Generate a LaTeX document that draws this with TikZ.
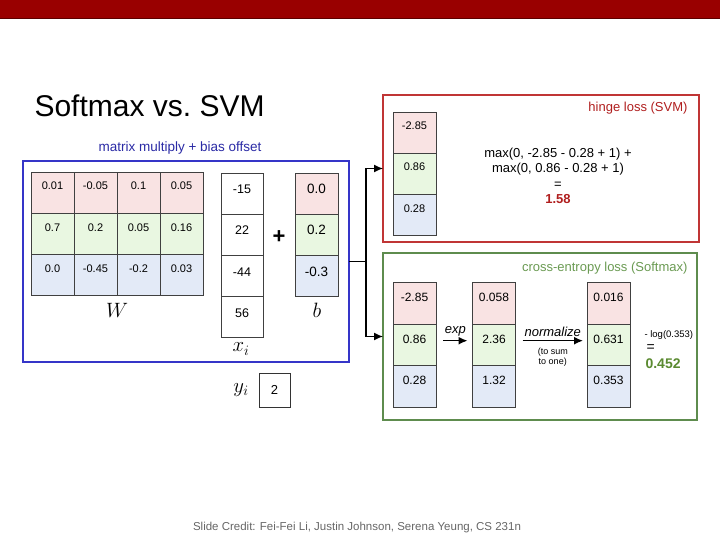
\documentclass[tikz,border=0pt]{standalone}
\usepackage{fontspec}
\setmainfont{Liberation Sans}
\usetikzlibrary{arrows.meta,positioning}
\definecolor{slideRed}{HTML}{990000}
\definecolor{cellRed}{HTML}{F9E3E3}
\definecolor{cellGreen}{HTML}{E9F7E1}
\definecolor{cellBlue}{HTML}{E3EAF7}
\definecolor{mmBlue}{HTML}{3535C8}
\definecolor{mmText}{HTML}{2A2AA5}
\definecolor{svmRed}{HTML}{C03535}
\definecolor{svmText}{HTML}{B01E1E}
\definecolor{ceGreen}{HTML}{5E8C4E}
\definecolor{ceText}{HTML}{6A9A52}
\definecolor{ceBold}{HTML}{5A8A30}
\newcommand{\fsz}[1]{\fontsize{#1}{#1}\selectfont}

\begin{document}
\begin{tikzpicture}[x=1pt,y=-1pt,
  cell/.style={draw=black!75,line width=0.7pt,minimum width=43pt,minimum height=41pt,
               inner sep=0pt,outer sep=0pt,text height=8pt,text depth=13pt,font=\fsz{11}},
  xcell/.style={cell,minimum width=42pt,text depth=7pt,font=\fsz{12.5}},
  bcell/.style={cell,text depth=7pt,font=\fsz{13.5}},
  scell/.style={cell,minimum height=41.7pt,text depth=11pt,font=\fsz{12}},
  frame/.style={draw=#1,line width=1.6pt,inner sep=0pt,outer sep=0pt},
  tip/.style={-{Latex[length=9pt,width=8pt]}}]
  \useasboundingbox (0,0) rectangle (720,540);
  \fill[slideRed] (0,0) rectangle (720,18);
  \draw[slideRed!60!black,line width=0.8pt] (0,18) -- (720,18);

  \node[anchor=base west,font=\fsz{30}] (title) at (31,117) {Softmax vs.\ SVM};

  % matrix multiply + bias
  \node[frame=mmBlue,minimum width=326pt,minimum height=201pt] (mm) at (186,261.5) {};
  \node[font=\fsz{13.5},text=mmText] (mmlabel) at (180,148) {matrix multiply + bias offset};

  \node[cell,fill=cellRed] (w11) at (52.5,192.5) {0.01};
  \node[cell,fill=cellRed,right=0pt of w11] (w12) {-0.05};
  \node[cell,fill=cellRed,right=0pt of w12] (w13) {0.1};
  \node[cell,fill=cellRed,right=0pt of w13] (w14) {0.05};
  \node[cell,fill=cellGreen,below=0pt of w11] (w21) {0.7};
  \node[cell,fill=cellGreen,right=0pt of w21] (w22) {0.2};
  \node[cell,fill=cellGreen,right=0pt of w22] (w23) {0.05};
  \node[cell,fill=cellGreen,right=0pt of w23] (w24) {0.16};
  \node[cell,fill=cellBlue,below=0pt of w21] (w31) {0.0};
  \node[cell,fill=cellBlue,right=0pt of w31] (w32) {-0.45};
  \node[cell,fill=cellBlue,right=0pt of w32] (w33) {-0.2};
  \node[cell,fill=cellBlue,right=0pt of w33] (w34) {0.03};
  \node[font=\fsz{20}] (wlabel) at (117,310) {$W$};

  \node[xcell,fill=white] (x1) at (242,193.5) {-15};
  \node[xcell,fill=white,below=0pt of x1] (x2) {22};
  \node[xcell,fill=white,below=0pt of x2] (x3) {-44};
  \node[xcell,fill=white,below=0pt of x3] (x4) {56};
  \node[font=\fsz{20}] (xlabel) at (241,349) {$x_i$};

  \node[font=\fsz{22}\bfseries] (plus) at (279,237) {+};

  \node[bcell,fill=cellRed] (b1) at (316.5,193.5) {0.0};
  \node[bcell,fill=cellGreen,below=0pt of b1] (b2) {0.2};
  \node[bcell,fill=cellBlue,below=0pt of b2] (b3) {-0.3};
  \node[font=\fsz{20}] (blabel) at (317,310) {$b$};

  \node[font=\fsz{20}] (ylabel) at (241,390) {$y_i$};
  \node[draw=black!80,line width=0.8pt,minimum width=31pt,minimum height=34pt,
        font=\fsz{13}] (y) at (274.5,390) {2};

  % hinge loss
  \node[frame=svmRed,minimum width=316pt,minimum height=147pt] (hinge) at (541,168.5) {};
  \node[anchor=east,font=\fsz{13},text=svmText] (hingelabel) at (691,108) {hinge loss (SVM)};
  \node[cell,fill=cellRed] (h1) at (414.5,132.5) {-2.85};
  \node[cell,fill=cellGreen,below=0pt of h1] (h2) {0.86};
  \node[cell,fill=cellBlue,below=0pt of h2] (h3) {0.28};
  \node[align=center,font={\fontsize{13}{15.3}\selectfont}] (hingecalc) at (558,176)
    {max(0, -2.85 - 0.28 + 1) +\\ max(0, 0.86 - 0.28 + 1)\\ =\\
     \textcolor{svmText}{\textbf{1.58}}};

  % cross-entropy loss
  \node[frame=ceGreen,minimum width=314pt,minimum height=167pt] (ce) at (540,336.5) {};
  \node[anchor=east,font=\fsz{13},text=ceText] (celabel) at (691,268) {cross-entropy loss (Softmax)};
  \node[scell,fill=cellRed] (s11) at (414.5,303) {-2.85};
  \node[scell,fill=cellGreen,below=0pt of s11] (s12) {0.86};
  \node[scell,fill=cellBlue,below=0pt of s12] (s13) {0.28};
  \node[scell,fill=cellRed] (s21) at (494,303) {0.058};
  \node[scell,fill=cellGreen,below=0pt of s21] (s22) {2.36};
  \node[scell,fill=cellBlue,below=0pt of s22] (s23) {1.32};
  \node[scell,fill=cellRed] (s31) at (608.5,303) {0.016};
  \node[scell,fill=cellGreen,below=0pt of s31] (s32) {0.631};
  \node[scell,fill=cellBlue,below=0pt of s32] (s33) {0.353};

  \draw[tip,line width=1.4pt] ([xshift=7pt,yshift=4pt]s12.east) --
    node[above,font=\fsz{13}\itshape] (explabel) {exp} ([xshift=-5pt,yshift=4pt]s22.west);
  \draw[tip,line width=1.4pt] ([xshift=7pt,yshift=4pt]s22.east) --
    node[above,font=\fsz{13}\itshape] (normlabel) {normalize}
    node[below=3pt,align=center,font={\fontsize{9}{10.5}\selectfont}] (sumlabel) {(to sum\\to one)}
    ([xshift=-4pt,yshift=4pt]s32.west);

  \node[anchor=west,font=\fsz{9.5}] (logtxt) at (641,335) {- log(0.353)};
  \node[anchor=west,font=\fsz{14}] (eq) at (643,348) {=};
  \node[anchor=west,font=\fsz{14}\bfseries,text=ceBold] (ceval) at (642,364) {0.452};

  % split to both losses
  \coordinate (split) at (366,261.5);
  \draw[line width=1.8pt] (mm.east) -- (split);
  \draw[tip,line width=1.2pt] (split) |- (hinge.west);
  \draw[tip,line width=1.2pt] (split) |- (ce.west);

  \node[font=\fsz{11.5},text=black!60] (credit) at (357,528)
    {Slide Credit: Fei-Fei Li, Justin Johnson, Serena Yeung, CS 231n};
\end{tikzpicture}
\end{document}
